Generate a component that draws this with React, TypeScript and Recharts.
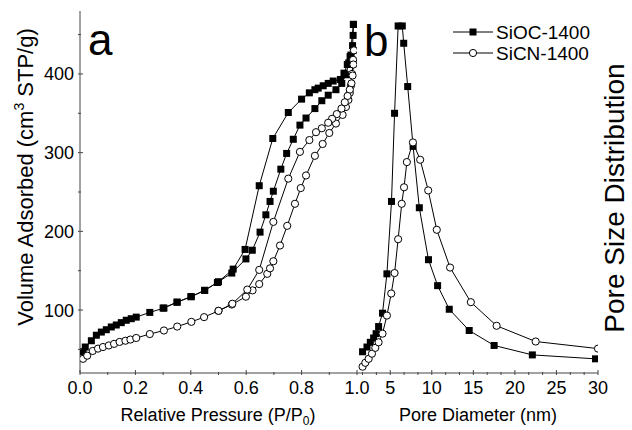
import React from 'react';
import { LineChart, Line, XAxis, YAxis } from 'recharts';

const FONT = '"Liberation Sans", Arial, sans-serif';
const AXIS = '#444';

// panel a: N2 isotherms, relative pressure (P/P0) vs volume adsorbed (cm3 STP/g)
const siocAdsP = [0.011, 0.019, 0.041, 0.059, 0.077, 0.095, 0.113, 0.131, 0.149, 0.167, 0.185, 0.203, 0.252, 0.303, 0.351, 0.402, 0.45, 0.496, 0.548, 0.599, 0.622, 0.65, 0.671, 0.686, 0.698, 0.725, 0.746, 0.77, 0.794, 0.816, 0.848, 0.873, 0.896, 0.924, 0.945, 0.96, 0.97, 0.978, 0.984, 0.986, 0.987];
const siocAdsV = [47, 53, 61, 68, 72, 75, 78.5, 81, 84, 87, 89, 91, 97, 102.5, 110, 117, 125, 135, 147, 165, 176, 199, 221, 238, 251, 279, 299, 317, 335, 344, 356, 366, 373, 380, 388, 399, 414, 424, 436, 449, 463];
const siocDesP = [0.987, 0.975, 0.965, 0.953, 0.94, 0.914, 0.896, 0.878, 0.86, 0.848, 0.828, 0.8, 0.752, 0.696, 0.647, 0.596, 0.553, 0.5, 0.45, 0.4, 0.35, 0.3];
const siocDesV = [463, 422, 412, 401, 393, 391, 388, 385, 382, 380, 376, 368, 351, 318, 258, 177, 152, 136, 125, 117, 110, 102.5];
const sicnAdsP = [0.011, 0.026, 0.046, 0.065, 0.083, 0.104, 0.123, 0.143, 0.164, 0.182, 0.203, 0.252, 0.303, 0.351, 0.402, 0.448, 0.5, 0.548, 0.599, 0.623, 0.647, 0.676, 0.686, 0.698, 0.722, 0.748, 0.776, 0.797, 0.816, 0.848, 0.876, 0.9, 0.924, 0.948, 0.96, 0.969, 0.974, 0.978, 0.982, 0.986, 0.989];
const sicnAdsV = [38, 42, 48, 51, 53, 55, 57, 59.5, 61, 62.5, 64.5, 69.5, 74, 79, 85, 91, 99, 107, 117, 125, 133, 146, 153, 162, 182, 207, 235, 255, 271, 296, 311, 325, 337, 348, 358, 367, 376, 385, 400, 418, 430];
const sicnDesP = [0.989, 0.987, 0.984, 0.98, 0.974, 0.966, 0.956, 0.944, 0.927, 0.91, 0.896, 0.873, 0.852, 0.828, 0.794, 0.752, 0.698, 0.647, 0.604, 0.55, 0.5];
const sicnDesV = [430, 412, 398, 388, 380, 372, 364, 356, 349, 343, 338, 331, 326, 316, 301, 267, 212, 151, 126, 108, 99];

// panel b: pore size distribution vs pore diameter (nm), arbitrary units
const siocPsdD = [1.67, 2.2, 2.6, 3.0, 3.3, 3.6, 4.07, 4.6, 5.15, 5.52, 5.95, 6.45, 6.62, 7.1, 7.75, 8.5, 9.6, 10.7, 12.1, 14.5, 17.5, 22.1, 29.7];
const siocPsdV = [47, 53, 59, 64.5, 70, 79, 96, 146, 238, 350, 461, 461, 439, 384, 308, 230, 164, 131, 101, 74, 55, 43, 38];
const sicnPsdD = [1.67, 2.0, 2.4, 2.8, 3.2, 3.6, 4.07, 4.6, 5.12, 5.52, 5.95, 6.38, 6.66, 7.0, 7.73, 8.6, 9.57, 10.6, 12.2, 14.7, 17.8, 22.5, 30];
const sicnPsdV = [28, 33, 38, 44.5, 52, 59, 70, 93, 121, 147, 190, 235, 256, 288, 313, 291, 252, 202, 154, 110, 80, 60, 51];

const pressureTicks = [0, 0.1, 0.2, 0.3, 0.4, 0.5, 0.6, 0.7, 0.8, 0.9, 1.0];
const pressureLabels = ['0.0', '', '0.2', '', '0.4', '', '0.6', '', '0.8', '', '1.0'];
const volumeTicks = [50, 100, 150, 200, 250, 300, 350, 400, 450];
const volumeLabels = ['', '100', '', '200', '', '300', '', '400', ''];
const diameterTicks = [1.667, 3.333, 5, 6.667, 8.333, 10, 11.667, 13.333, 15, 16.667, 18.333, 20, 21.667, 23.333, 25, 26.667, 28.333, 30];
const diameterLabels = ['', '', '5', '', '', '10', '', '', '15', '', '', '20', '', '', '25', '', '', '30'];

const zip = (xs: number[], ys: number[]) => xs.map((x, i) => ({ x, y: ys[i] }));

const squareDot = (p: any) => (
  <rect key={p.index} x={p.cx - 3.5} y={p.cy - 3.5} width={7} height={7} fill="#000" />
);
const circleDot = (p: any) => (
  <circle key={p.index} cx={p.cx} cy={p.cy} r={3.6} fill="#fff" stroke="#000" strokeWidth={1} />
);

function makeXTick(ticks: number[], labels: string[]) {
  return (p: any) => {
    const i = ticks.findIndex((t) => Math.abs(t - p.payload.value) < 1e-6);
    const label = labels[i] ?? '';
    return (
      <g key={p.index}>
        <line x1={p.x} y1={p.y} x2={p.x} y2={p.y - (label ? 5 : 3)} stroke={AXIS} />
        {label && (
          <text x={p.x} y={p.y + 19} textAnchor="middle" fontSize={18} fill="#000" fontFamily={FONT}>{label}</text>
        )}
      </g>
    );
  };
}

function makeYTick(ticks: number[], labels: string[]) {
  return (p: any) => {
    const i = ticks.findIndex((t) => Math.abs(t - p.payload.value) < 1e-6);
    const label = labels[i] ?? '';
    return (
      <g key={p.index}>
        <line x1={p.x} y1={p.y} x2={p.x + (label ? 5 : 3)} y2={p.y} stroke={AXIS} />
        {label && (
          <text x={p.x - 4} y={p.y + 6.5} textAnchor="end" fontSize={18} fill="#000" fontFamily={FONT}>{label}</text>
        )}
      </g>
    );
  };
}

const line = (data: { x: number; y: number }[], dot: any, key: string) => (
  <Line
    key={key}
    xAxisId="x"
    yAxisId="y"
    data={data}
    dataKey="y"
    stroke="#000"
    strokeWidth={1}
    dot={dot}
    activeDot={false}
    isAnimationActive={false}
  />
);

export default function App() {
  const text = { fontFamily: FONT, fill: '#000' };
  return (
    <div style={{ position: 'absolute', left: 0, top: 0, width: 632, height: 430, background: '#fff' }}>
      <div style={{ position: 'absolute', left: 0, top: 0 }}>
        <LineChart width={632} height={430} margin={{ top: 11, right: 275, bottom: 27, left: 20 }}>
          <XAxis xAxisId="top" orientation="top" type="number" domain={[0, 1]} height={0} tick={false} tickLine={false} stroke={AXIS} />
          <XAxis xAxisId="x" dataKey="x" type="number" domain={[0, 1]} ticks={pressureTicks} interval={0} height={30} tickSize={0} tickLine={false} tick={makeXTick(pressureTicks, pressureLabels)} stroke={AXIS} allowDataOverflow />
          <YAxis yAxisId="y" type="number" domain={[20, 480]} ticks={volumeTicks} interval={0} width={60} tickSize={0} tickLine={false} tick={makeYTick(volumeTicks, volumeLabels)} stroke={AXIS} allowDataOverflow />
          <YAxis yAxisId="r" orientation="right" type="number" domain={[20, 480]} width={0} tick={false} tickLine={false} stroke={AXIS} />
          {line(zip(siocAdsP, siocAdsV), squareDot, 'sa')}
          {line(zip(siocDesP, siocDesV), squareDot, 'sd')}
          {line(zip(sicnAdsP, sicnAdsV), circleDot, 'na')}
          {line(zip(sicnDesP, sicnDesV), circleDot, 'nd')}
        </LineChart>
      </div>
      <div style={{ position: 'absolute', left: 0, top: 0 }}>
        <LineChart width={632} height={430} margin={{ top: 11, right: 34, bottom: 27, left: 357 }}>
          <XAxis xAxisId="top" orientation="top" type="number" domain={[1, 30]} height={0} tick={false} tickLine={false} stroke={AXIS} />
          <XAxis xAxisId="x" dataKey="x" type="number" domain={[1, 30]} ticks={diameterTicks} interval={0} height={30} tickSize={0} tickLine={false} tick={makeXTick(diameterTicks, diameterLabels)} stroke={AXIS} allowDataOverflow />
          <YAxis yAxisId="y" type="number" domain={[20, 480]} width={0} tick={false} tickLine={false} stroke={AXIS} allowDataOverflow />
          <YAxis yAxisId="r" orientation="right" type="number" domain={[20, 480]} width={0} tick={false} tickLine={false} stroke={AXIS} />
          {line(zip(siocPsdD, siocPsdV), squareDot, 'ps')}
          {line(zip(sicnPsdD, sicnPsdV), circleDot, 'pn')}
        </LineChart>
      </div>
      <svg width={632} height={430} style={{ position: 'absolute', left: 0, top: 0, pointerEvents: 'none' }}>
        <text x={88} y={55} fontSize={44} {...text}>a</text>
        <text x={364} y={56} fontSize={44} {...text}>b</text>
        <text x={218} y={421} fontSize={18} textAnchor="middle" {...text}>
          Relative Pressure (P/P<tspan fontSize={12} dy={4}>0</tspan><tspan dy={-4}>)</tspan>
        </text>
        <text x={478} y={421} fontSize={18} textAnchor="middle" {...text}>Pore Diameter (nm)</text>
        <text x={33} y={177} fontSize={22} textAnchor="middle" transform="rotate(-90 33 177)" {...text}>
          Volume Adsorbed (cm<tspan fontSize={14} dy={-9}>3</tspan><tspan dy={9}> STP/g)</tspan>
        </text>
        <text x={624} y={198} fontSize={28} textAnchor="middle" transform="rotate(-90 624 198)" {...text}>Pore Size Distribution</text>
        <g>
          <line x1={453} y1={32} x2={493} y2={32} stroke="#000" />
          <rect x={469.5} y={28.5} width={7} height={7} fill="#000" />
          <text x={496} y={39} fontSize={19} {...text}>SiOC-1400</text>
          <line x1={453} y1={53} x2={493} y2={53} stroke="#000" />
          <circle cx={473} cy={53} r={3.6} fill="#fff" stroke="#000" />
          <text x={496} y={60} fontSize={19} {...text}>SiCN-1400</text>
        </g>
      </svg>
    </div>
  );
}
